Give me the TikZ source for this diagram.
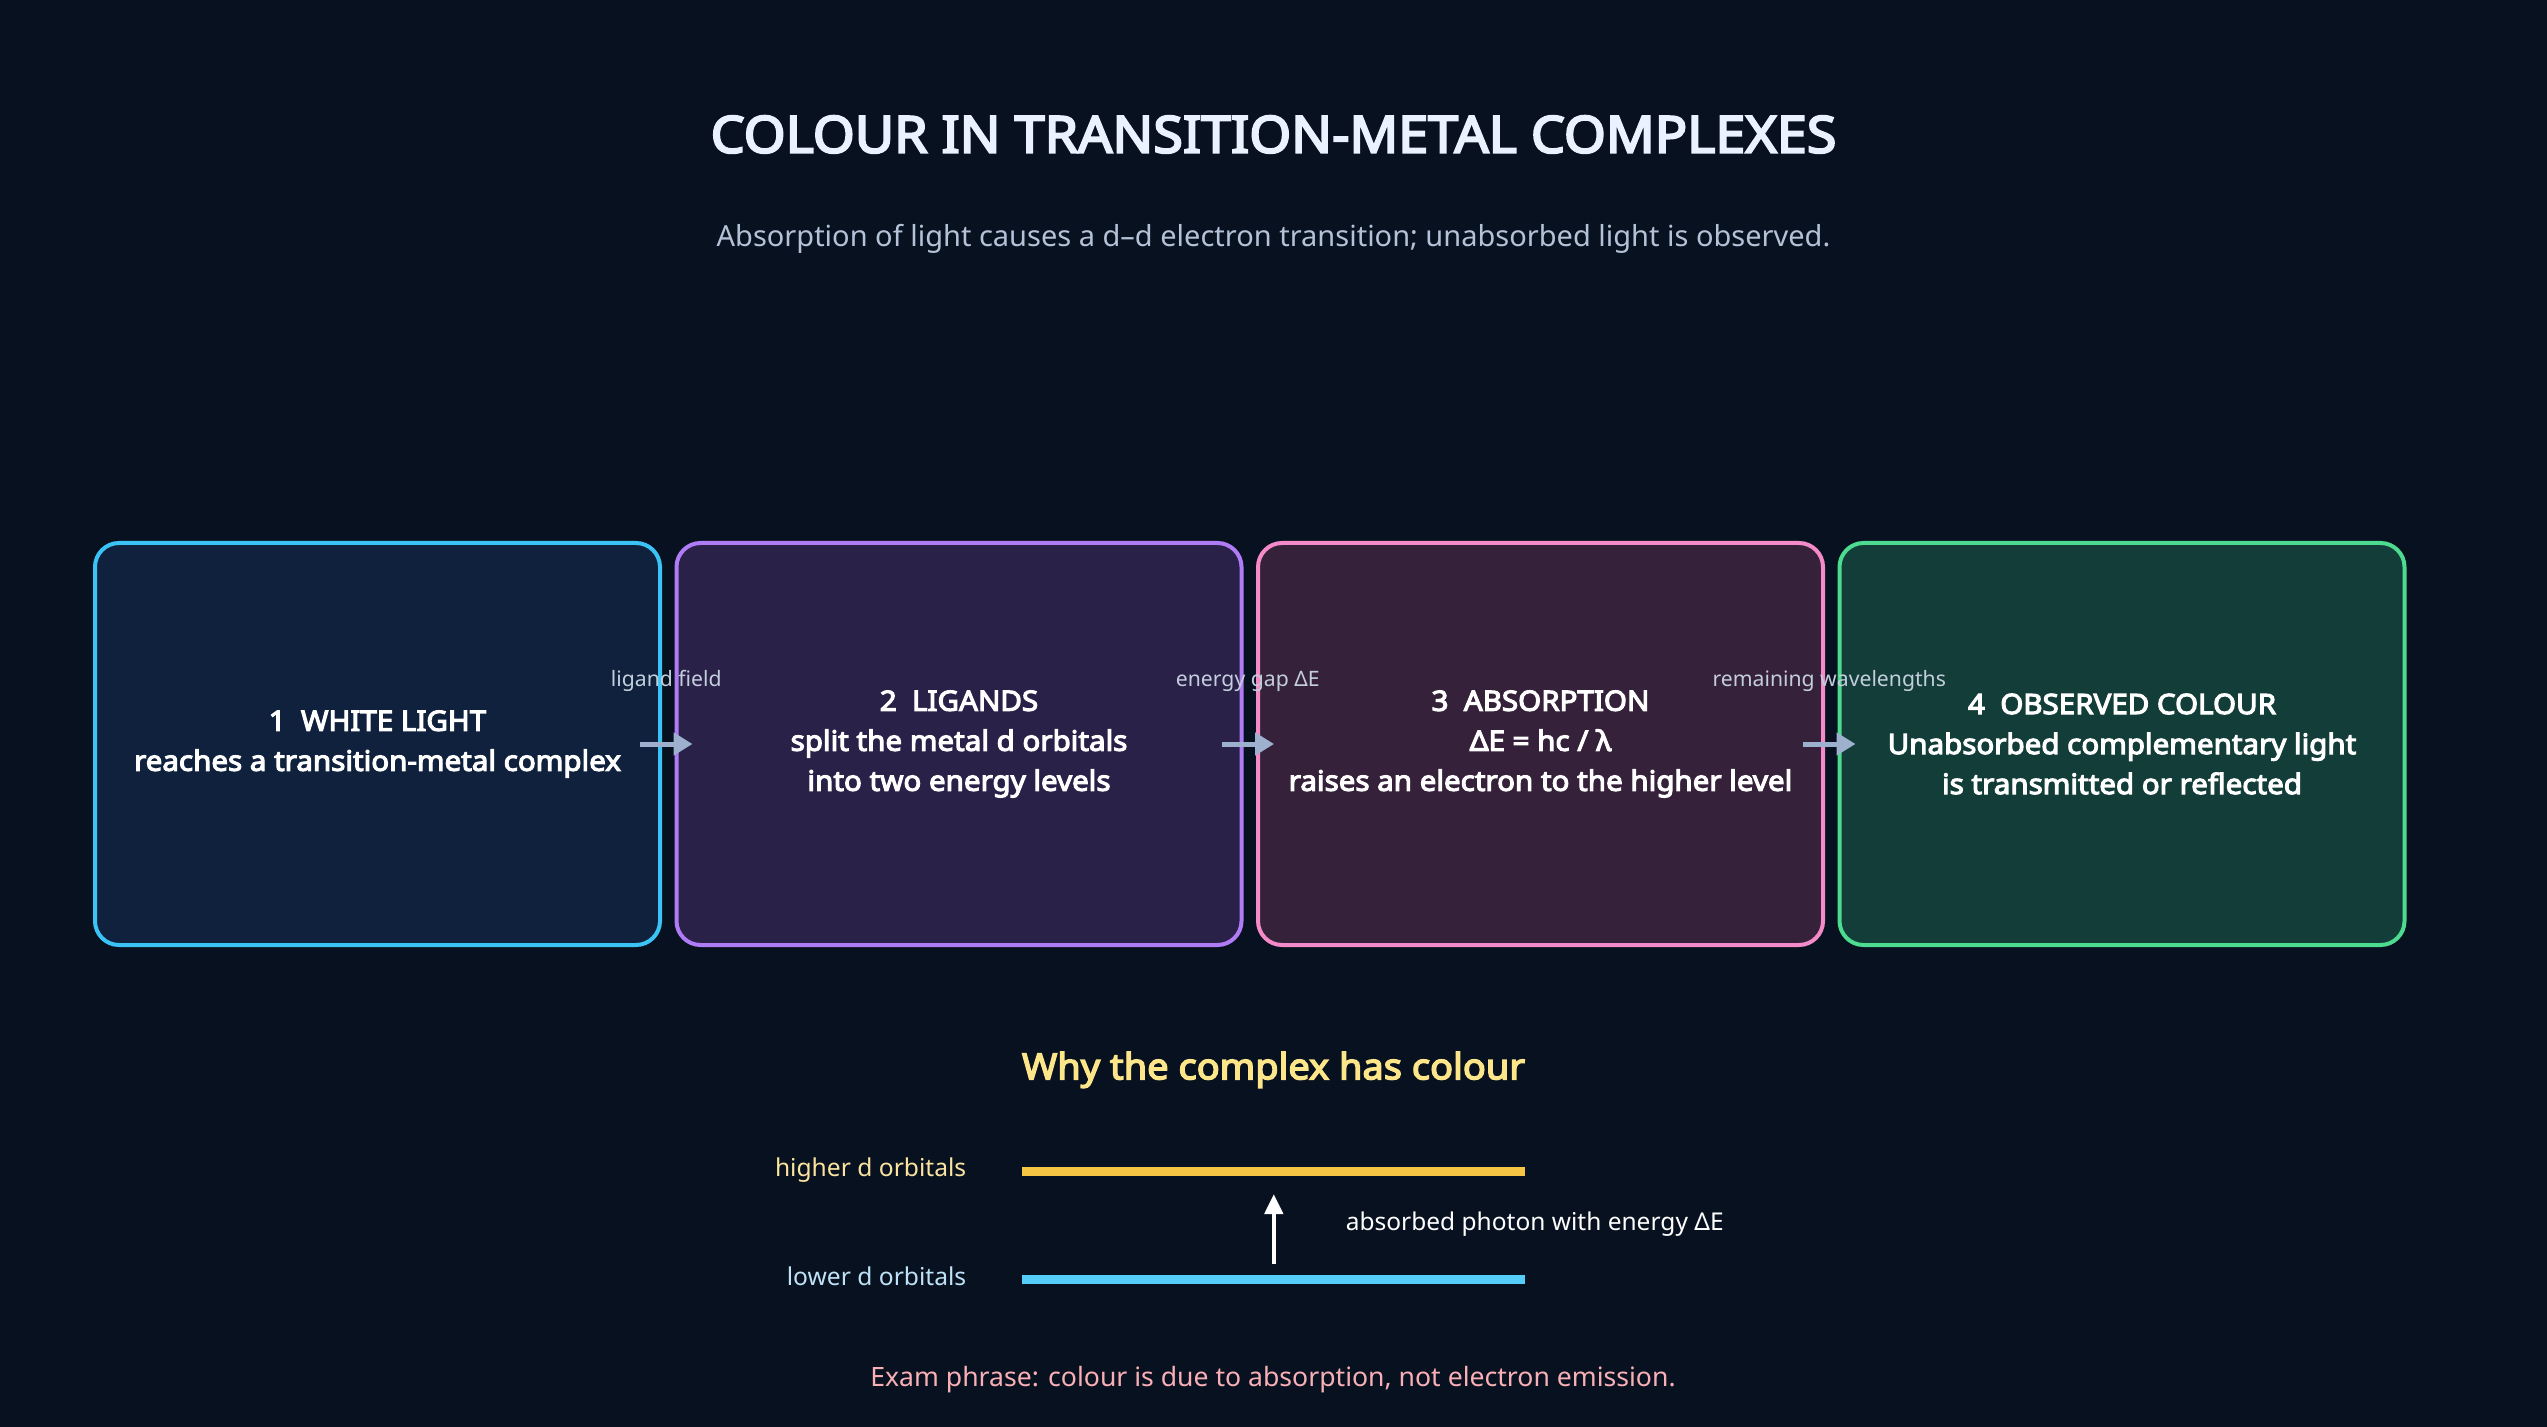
\documentclass[tikz,border=0pt]{standalone}
\usepackage{fontspec}
\setmainfont{Noto Sans}[BoldFont={Noto Sans},BoldFeatures={FakeBold=4,FakeStretch=1.055}]
\usetikzlibrary{positioning}
\usetikzlibrary{arrows.meta}

\definecolor{bgcol}{HTML}{08111F}
\definecolor{titlecol}{HTML}{EAF2FF}
\definecolor{subcol}{HTML}{B4C2D8}
\definecolor{whitefill}{HTML}{10213D}
\definecolor{whiteline}{HTML}{3CC3F5}
\definecolor{ligfill}{HTML}{2A2149}
\definecolor{ligline}{HTML}{B07CF5}
\definecolor{absfill}{HTML}{36213B}
\definecolor{absline}{HTML}{F58AC8}
\definecolor{obsfill}{HTML}{133D38}
\definecolor{obsline}{HTML}{4CDB8F}
\definecolor{arrowcol}{HTML}{9DB1CF}
\definecolor{lblcol}{HTML}{C3CEDD}
\definecolor{headcol}{HTML}{FDE58A}
\definecolor{hicol}{HTML}{F7C544}
\definecolor{locol}{HTML}{55CDFB}
\definecolor{hitxt}{HTML}{FBE3A0}
\definecolor{lotxt}{HTML}{BEE3F8}
\definecolor{examcol}{HTML}{F9AFB6}

\begin{document}
\begin{tikzpicture}[x=1pt,y=1pt,
	box/.style={draw,rounded corners=12pt,line width=2pt,outer sep=0pt,inner sep=0pt,
		minimum width=282.5pt,minimum height=201pt,align=center,text=white,
		font=\fontsize{14}{20}\selectfont\bfseries},
	flow/.style={-{Triangle[length=9.5pt,width=11pt]},line width=2.5pt,draw=arrowcol},
	lbl/.style={font=\fontsize{10.6}{12}\selectfont,text=lblcol,inner sep=0pt,anchor=base,yshift=29pt},
	level/.style={line width=4.5pt},
	orb/.style={font=\fontsize{12.3}{14}\selectfont,inner sep=0pt,anchor=base east},
	photon/.style={-{Triangle[length=10pt,width=9pt]},line width=2.2pt,draw=white}]
	
	% background and frame
	\fill[bgcol] (0,0) rectangle (1273.5,-713.5);
	\useasboundingbox (0,0) rectangle (1273.5,-713.5);
	
	\node[font=\fontsize{25.5}{30}\selectfont\bfseries,text=titlecol,inner sep=0pt,anchor=base]
		(title) at (636.75,-76.35) {COLOUR IN TRANSITION-METAL COMPLEXES};
	\node[font=\fontsize{14.5}{17}\selectfont,text=subcol,inner sep=0pt,anchor=base]
		(subtitle) at (636.75,-123.35) {Absorption of light causes a d–d electron transition; unabsorbed light is observed.};
	
	% the four steps
	\node[box,fill=whitefill,draw=whiteline] (white) at (188.75,-372)
		{1~~WHITE LIGHT\\reaches a transition-metal complex};
	\node[box,fill=ligfill,draw=ligline] (ligands) [right=8.25pt of white]
		{2~~LIGANDS\\split the metal d orbitals\\into two energy levels};
	\node[box,fill=absfill,draw=absline] (absorb) [right=8.25pt of ligands]
		{3~~ABSORPTION\\ΔE = hc / λ\\raises an electron to the higher level};
	\node[box,fill=obsfill,draw=obsline] (observed) [right=8.25pt of absorb]
		{4~~OBSERVED COLOUR\\Unabsorbed complementary light\\is transmitted or reflected};
	
	\path
	([xshift=-10pt]white.east) edge[flow] node[lbl] {ligand field} ([xshift=8pt]ligands.west)
	([xshift=-10pt]ligands.east) edge[flow] node[lbl] {energy gap ΔE} ([xshift=8pt]absorb.west)
	([xshift=-10pt]absorb.east) edge[flow] node[lbl] {remaining wavelengths} ([xshift=8pt]observed.west)
	;
	
	% energy level sketch
	\node[font=\fontsize{18}{22}\selectfont\bfseries,text=headcol,inner sep=0pt,anchor=base]
		(why) at (636.75,-539.65) {Why the complex has colour};
	\coordinate (hiL) at (511,-585.85);
	\coordinate (hiR) at (762.5,-585.85);
	\coordinate (loL) at (511,-639.65);
	\coordinate (loR) at (762.5,-639.65);
	\draw[level,draw=hicol] (hiL) -- (hiR);
	\draw[level,draw=locol] (loL) -- (loR);
	\node[orb,text=hitxt] (hilbl) at (483.3,-588.35) {higher d orbitals};
	\node[orb,text=lotxt] (lolbl) at (483.3,-642.85) {lower d orbitals};
	\coordinate (pbase) at (636.9,-632);
	\coordinate (ptip) at (636.9,-597);
	\draw[photon] (pbase) -- (ptip);
	\node[font=\fontsize{12.25}{14}\selectfont,text=white,inner sep=0pt,anchor=base west]
		(photonlbl) at (672.7,-615.35) {absorbed photon with energy ΔE};
	
	\node[font=\fontsize{13.3}{16}\selectfont,text=examcol,inner sep=0pt,anchor=base]
		(exam) at (636.5,-693.35) {Exam phrase: colour is due to absorption, not electron emission.};
\end{tikzpicture}
\end{document}
